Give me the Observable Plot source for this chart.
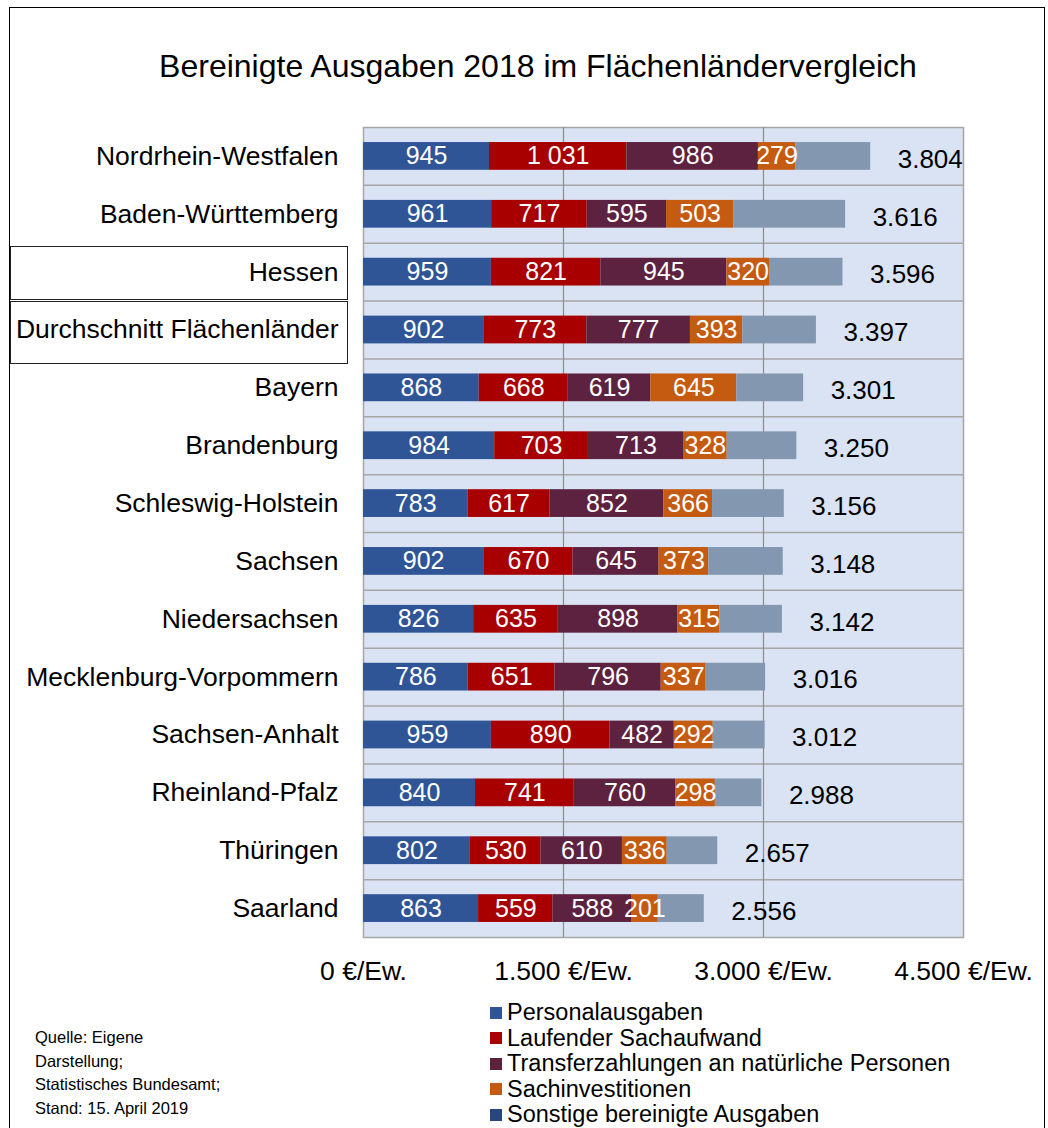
<!DOCTYPE html>
<html><head><meta charset="utf-8">
<script src="https://cdn.jsdelivr.net/npm/d3@7"></script>
<script src="https://cdn.jsdelivr.net/npm/@observablehq/plot@0.6"></script>
<style>
html,body{margin:0;padding:0;background:#fff;}
body{font-family:"Liberation Sans",Arial,sans-serif;color:#000;}
#wrap{position:relative;width:1048px;height:1128px;overflow:hidden;}
#frame{position:absolute;left:9px;top:7px;width:1036px;height:1140px;border:1px solid #000;box-sizing:border-box;}
#title{position:absolute;left:0;top:46px;width:1076px;text-align:center;font-size:32px;line-height:40px;}
#chart{position:absolute;left:0;top:100px;}
.box{position:absolute;border:1px solid #222;box-sizing:border-box;}
#legend{position:absolute;left:490px;top:1000px;font-size:23.5px;line-height:25.5px;}
#legend .it{display:flex;align-items:center;white-space:nowrap;}
#legend .sw{width:12px;height:12px;margin-right:5px;display:inline-block;}
#caption{position:absolute;left:35px;top:1026px;font-size:16.5px;line-height:23.5px;}
</style>
</head><body>
<div id="wrap">
  <div id="frame"></div>
  <div id="title">Bereinigte Ausgaben 2018 im Flächenländervergleich</div>
  <div id="chart"></div>
  <div class="box" style="left:10px;top:246px;width:338px;height:54px;"></div>
  <div class="box" style="left:10px;top:301px;width:338px;height:63px;"></div>
  <div id="legend"></div>
  <div id="caption">Quelle: Eigene<br>Darstellung;<br>Statistisches Bundesamt;<br>Stand: 15. April 2019</div>
</div>
<script>
const states = ["Nordrhein-Westfalen","Baden-Württemberg","Hessen","Durchschnitt Flächenländer","Bayern","Brandenburg","Schleswig-Holstein","Sachsen","Niedersachsen","Mecklenburg-Vorpommern","Sachsen-Anhalt","Rheinland-Pfalz","Thüringen","Saarland"];
const personal   = [945, 961, 959, 902, 868, 984, 783, 902, 826, 786, 959, 840, 802, 863];
const sachaufwand= [1031,717, 821, 773, 668, 703, 617, 670, 635, 651, 890, 741, 530, 559];
const transfer   = [986, 595, 945, 777, 619, 713, 852, 645, 898, 796, 482, 760, 610, 588];
const investition= [279, 503, 320, 393, 645, 328, 366, 373, 315, 337, 292, 298, 336, 201];
const sonstige   = [563, 840, 551, 552, 501, 522, 538, 558, 468, 446, 389, 349, 379, 345];
const totals     = [3804,3616,3596,3397,3301,3250,3156,3148,3142,3016,3012,2988,2657,2556];
const categories = ["Personalausgaben","Laufender Sachaufwand","Transferzahlungen an natürliche Personen","Sachinvestitionen","Sonstige bereinigte Ausgaben"];
const barColors   = ["#2F5597","#A80000","#5D2240","#C55A11","#8497B0"];
const legendColors= ["#2F5597","#A80000","#5D2240","#C55A11","#28477F"];
const xTicks = [0, 1500, 3000, 4500];

const series = [personal, sachaufwand, transfer, investition, sonstige];
const long = [];
states.forEach((s, i) => categories.forEach((c, j) => long.push({state: s, cat: c, value: series[j][i], labeled: j < 4})));
const rows = states.map((s, i) => ({state: s, total: totals[i]}));

const fmtSpace = v => v >= 1000 ? Math.floor(v/1000) + " " + String(v % 1000).padStart(3, "0") : String(v);
const fmtDot = v => v >= 1000 ? Math.floor(v/1000) + "." + String(v % 1000).padStart(3, "0") : String(v);

const marginTop = 27, marginBottom = 60, plotH = 810;
const step = plotH / states.length;

const chart = Plot.plot({
  width: 1048,
  height: marginTop + plotH + marginBottom,
  marginTop, marginBottom,
  marginLeft: 363, marginRight: 85,
  style: {fontFamily: "Liberation Sans, Arial, sans-serif", fontSize: "26.5px", background: "transparent", overflow: "visible"},
  x: {domain: [0, 4500], ticks: xTicks, tickFormat: v => fmtDot(v) + " €/Ew.", tickSize: 0, tickPadding: 24, label: null},
  y: {domain: states, paddingInner: 0.52, paddingOuter: 0.26, round: false, tickSize: 0, tickPadding: 25, label: null},
  color: {domain: categories, range: barColors},
  marks: [
    Plot.frame({fill: "#DAE3F3", stroke: "#A6A6A6", strokeWidth: 1.5}),
    Plot.ruleY(states.slice(1), {y: d => d, dy: -step/2, stroke: "#A6A6A6", strokeWidth: 1.5}),
    Plot.ruleX([1500, 3000], {stroke: "#8C8C8C", strokeWidth: 1.2}),
    Plot.barX(long, {x: "value", y: "state", fill: "cat"}),
    Plot.text(long, Plot.stackX({x: "value", y: "state", text: d => d.labeled ? fmtSpace(d.value) : "", fill: "white", fontSize: 25})),
    Plot.text(rows, {x: "total", y: "state", text: d => fmtDot(d.total), textAnchor: "start", dx: 27, dy: 3, fill: "black", fontSize: 26})
  ]
});
document.getElementById("chart").appendChild(chart);

const legend = document.getElementById("legend");
categories.forEach((c, i) => {
  const it = document.createElement("div");
  it.className = "it";
  it.innerHTML = `<span class="sw" style="background:${legendColors[i]}"></span><span>${c}</span>`;
  legend.appendChild(it);
});
</script>
</body></html>
